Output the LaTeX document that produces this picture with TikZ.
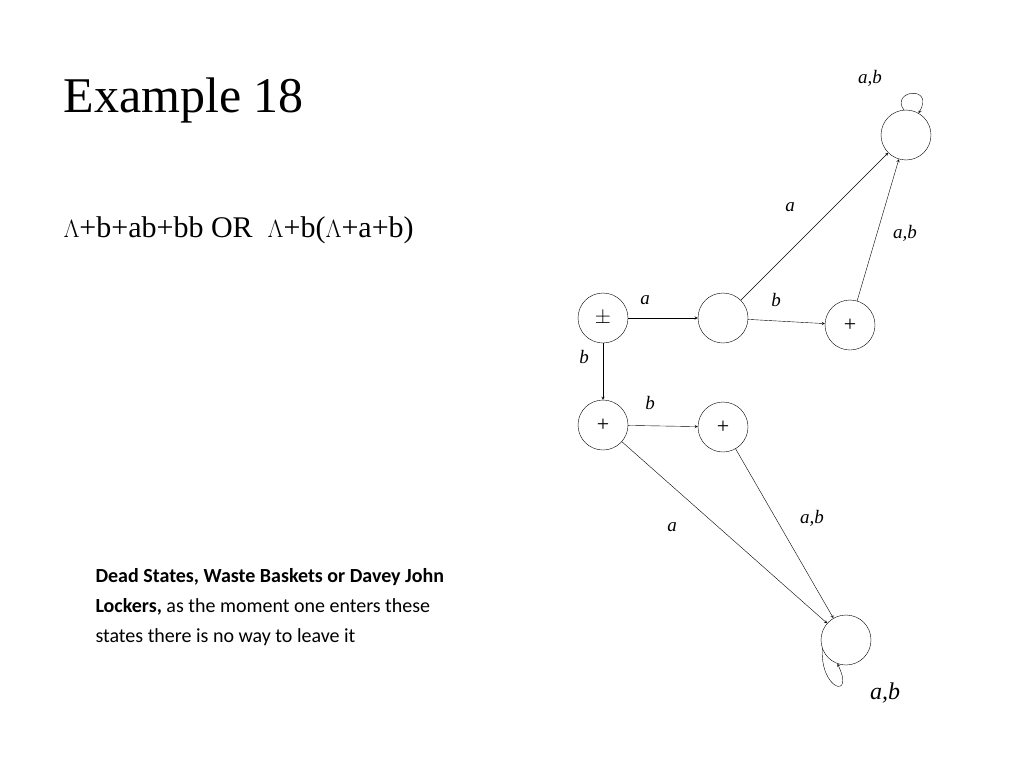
\documentclass[tikz,border=0pt]{standalone}
\usepackage{fontspec}
\setmainfont{Liberation Serif}
\newfontfamily\calibrifont{Carlito}
\begin{document}
\begin{tikzpicture}[x=1pt,y=-1pt,
 st/.style={circle,draw,minimum size=50pt,inner sep=0pt,font=\fontsize{22}{22}\selectfont},
 ar/.style={->,>=stealth,thin},
 lb/.style={font=\itshape\fontsize{19}{19}\selectfont}]
\useasboundingbox (0,0) rectangle (1024,768);
\node[anchor=west,font=\fontsize{50}{50}\selectfont] (t) at (60,100) {Example 18};
\node[anchor=west,font=\fontsize{30}{30}\selectfont] (e) at (60,230) {$\Lambda$+b+ab+bb OR \ $\Lambda$+b($\Lambda$+a+b)};
\node[anchor=north west,align=left,font=\calibrifont\fontsize{20}{30}\selectfont] (p) at (92,565)
 {\textbf{Dead States, Waste Baskets or Davey John}\\ \textbf{Lockers,} as the moment one enters these\\ states there is no way to leave it};
\node[st] (d1) at (906,135) {};
\node[st] (s) at (603,318) {$\pm$};
\node[st] (m) at (723,318) {};
\node[st] (p1) at (850,325) {+};
\node[st] (p2) at (603,425) {+};
\node[st] (p3) at (723,427) {+};
\node[st] (d2) at (846,640) {};
\draw[ar] (s) -- (m);
\draw[ar] (m) -- (p1);
\draw[ar] (m) -- (d1);
\draw[ar] (p1) -- (d1);
\draw[ar] (s) -- (p2);
\draw[ar] (p2) -- (p3);
\draw[ar] (p2) -- (d2);
\draw[ar] (p3) -- (d2);
\draw[ar] (d1.95) .. controls (890,90) and (935,85) .. (d1.60);
\draw[ar] (d2.200) .. controls (820,690) and (855,700) .. (d2.250);
\node[lb] (l1) at (870,78) {a,b};
\node[lb] (l2) at (790,207) {a};
\node[lb] (l3) at (905,233) {a,b};
\node[lb] (l4) at (645,300) {a};
\node[lb] (l5) at (776,300) {b};
\node[lb] (l6) at (584,357) {b};
\node[lb] (l7) at (650,403) {b};
\node[lb] (l8) at (812,518) {a,b};
\node[lb] (l9) at (672,527) {a};
\node[lb,font=\itshape\fontsize{24}{24}\selectfont] (l10) at (885,693) {a,b};
\end{tikzpicture}
\end{document}
